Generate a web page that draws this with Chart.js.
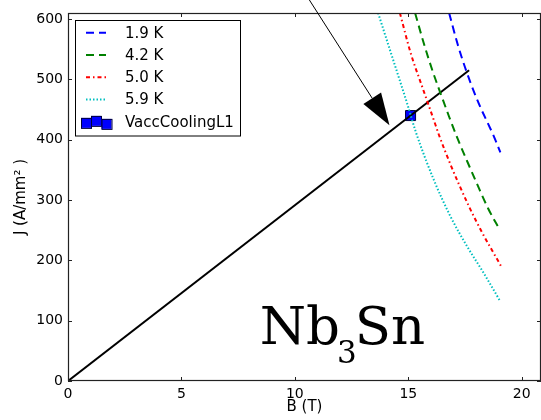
<!DOCTYPE html>
<html>
<head>
<meta charset="utf-8">
<script src="https://cdn.jsdelivr.net/npm/chart.js"></script>
<style>
  html, body { margin: 0; padding: 0; background: #fff; }
</style>
</head>
<body>
<canvas id="chart" width="541" height="420"></canvas>
<script>
// load line of the magnet and its operating point
const loadB = [0, 17.68];
const loadJ = [0, 515];
const pointB = [15.1];
const pointJ = [440];

// critical current curves
const seriesLabels = ['1.9 K', '4.2 K', '5.0 K', '5.9 K', 'VaccCoolingL1'];
const b19 = [16.8, 17.17, 17.5, 18.05, 18.79, 19.06];
const j19 = [610, 559, 520, 465, 404, 379];
const b42 = [15.3, 15.69, 16.06, 16.43, 16.8, 17.17, 17.61, 18.05, 18.52, 19.04];
const j42 = [610, 559, 515, 476, 438, 402, 363, 325, 286, 250];
const b50 = [14.63, 15.11, 15.62, 16.13, 16.36, 16.87, 17.68, 18.27, 18.9, 19.08];
const j50 = [610, 543, 487, 432, 407, 358, 289, 245, 203, 191];
const b59 = [13.67, 14.13, 14.55, 14.95, 15.33, 16.13, 16.87, 17.61, 18.34, 19.04];
const j59 = [610, 556, 507, 460, 413, 333, 272, 222, 178, 133];

// arrow pointing at the load line (data coords)
const arrowFrom = [10.31, 651];
const arrowTo = [14.17, 424];
const labelAt = [8.45, 62];

const xTicks = [0, 5, 10, 15, 20];
const yTicks = [0, 100, 200, 300, 400, 500, 600];

function pts(bs, js) {
    return bs.map((b, i) => ({ x: b, y: js[i] }));
}

const styles = [
    { color: '#0000ff', dash: [8, 5], width: 2 },
    { color: '#008000', dash: [8, 5], width: 2 },
    { color: '#ff0000', dash: [4, 3, 1.5, 3], width: 2 },
    { color: '#00bfbf', dash: [1.5, 2], width: 2 }
];

const overlay = {
    id: 'overlay',
    afterDatasetsDraw(chart) {
        const { ctx, chartArea: a, scales: { x, y } } = chart;
        ctx.save();

        // frame + inward ticks
        ctx.strokeStyle = '#222';
        ctx.lineWidth = 1.2;
        ctx.strokeRect(a.left + 0.5, a.top + 0.5, a.right - a.left - 1, a.bottom - a.top - 1);
        ctx.lineWidth = 1;
        ctx.beginPath();
        x.ticks.forEach(t => {
            const px = Math.round(x.getPixelForValue(t.value)) + 0.5;
            ctx.moveTo(px, a.bottom); ctx.lineTo(px, a.bottom - 4);
            ctx.moveTo(px, a.top); ctx.lineTo(px, a.top + 4);
        });
        y.ticks.forEach(t => {
            const py = Math.round(y.getPixelForValue(t.value)) + 0.5;
            ctx.moveTo(a.left, py); ctx.lineTo(a.left + 4, py);
            ctx.moveTo(a.right, py); ctx.lineTo(a.right - 4, py);
        });
        ctx.stroke();

        // Nb3Sn label
        ctx.fillStyle = '#000';
        ctx.textBaseline = 'alphabetic';
        let tx = x.getPixelForValue(labelAt[0]);
        const ty = y.getPixelForValue(labelAt[1]);
        ctx.font = '53px "DejaVu Serif"';
        ctx.fillText('Nb', tx, ty);
        tx += ctx.measureText('Nb').width;
        ctx.font = '31px "DejaVu Serif"';
        ctx.fillText('3', tx - 3, ty + 19);
        tx += ctx.measureText('3').width;
        ctx.font = '53px "DejaVu Serif"';
        ctx.fillText('Sn', tx - 5, ty);

        // arrow
        const x0 = x.getPixelForValue(arrowFrom[0]), y0 = y.getPixelForValue(arrowFrom[1]);
        const x1 = x.getPixelForValue(arrowTo[0]), y1 = y.getPixelForValue(arrowTo[1]);
        const ang = Math.atan2(y1 - y0, x1 - x0);
        const hl = 32, hw = 10.5;
        const bx = x1 - hl * Math.cos(ang), by = y1 - hl * Math.sin(ang);
        ctx.beginPath();
        ctx.moveTo(x0, y0); ctx.lineTo(bx, by);
        ctx.strokeStyle = '#000';
        ctx.lineWidth = 1;
        ctx.stroke();
        ctx.beginPath();
        ctx.moveTo(x1, y1);
        ctx.lineTo(bx + hw * Math.sin(ang), by - hw * Math.cos(ang));
        ctx.lineTo(bx - hw * Math.sin(ang), by + hw * Math.cos(ang));
        ctx.closePath();
        ctx.fill();

        // legend
        const lx = 75.5, ly = 20.5, lw = 165, lh = 115.5;
        ctx.fillStyle = '#fff';
        ctx.fillRect(lx, ly, lw, lh);
        ctx.strokeStyle = '#000';
        ctx.lineWidth = 1;
        ctx.strokeRect(lx, ly, lw, lh);
        ctx.font = '15px "DejaVu Sans"';
        ctx.textBaseline = 'middle';
        seriesLabels.forEach((lab, i) => {
            const cy = 32.7 + i * 22.3;
            if (i < 4) {
                const s = styles[i];
                ctx.beginPath();
                ctx.setLineDash(s.dash);
                ctx.strokeStyle = s.color;
                ctx.lineWidth = s.width;
                ctx.moveTo(86, cy); ctx.lineTo(106, cy);
                ctx.stroke();
                ctx.setLineDash([]);
            } else {
                ctx.fillStyle = '#0000ff';
                ctx.strokeStyle = '#000040';
                ctx.lineWidth = 1;
                [[81, cy - 4], [91, cy - 6], [101.5, cy - 3]].forEach(([sx, sy]) => {
                    ctx.fillRect(sx, sy, 10, 10);
                    ctx.strokeRect(sx + 0.5, sy + 0.5, 10, 10);
                });
            }
            ctx.fillStyle = '#000';
            ctx.fillText(lab, 125, cy + 1);
        });
        ctx.restore();
    }
};

const curveSets = [[b19, j19], [b42, j42], [b50, j50], [b59, j59]];
const datasets = curveSets.map(([bs, js], i) => ({
    label: seriesLabels[i],
    data: pts(bs, js),
    showLine: true,
    borderColor: styles[i].color,
    borderWidth: styles[i].width,
    borderDash: styles[i].dash,
    cubicInterpolationMode: 'monotone',
    pointRadius: 0,
    fill: false
}));
datasets.push({
    label: 'load line',
    data: pts(loadB, loadJ),
    showLine: true,
    borderColor: '#000',
    borderWidth: 2,
    pointRadius: 0
});
datasets.push({
    label: seriesLabels[4],
    data: pts(pointB, pointJ),
    pointStyle: 'rect',
    pointRadius: 7.1,
    backgroundColor: '#0000ff',
    borderColor: '#000040',
    borderWidth: 1
});

const tickFont = { family: 'DejaVu Sans', size: 14 };

new Chart(document.getElementById('chart'), {
    type: 'scatter',
    data: { datasets },
    options: {
        responsive: false,
        animation: false,
        layout: { autoPadding: false, padding: { top: 13, right: 0, bottom: 0, left: 0 } },
        plugins: { legend: { display: false }, tooltip: { enabled: false } },
        scales: {
            x: {
                type: 'linear',
                min: 0,
                max: 20.85,
                afterBuildTicks: s => { s.ticks = xTicks.map(v => ({ value: v })); },
                afterFit: s => { s.height = 39; s.paddingLeft = 0; s.paddingRight = 0; },
                grid: { display: false, drawTicks: false },
                border: { display: false },
                ticks: { font: tickFont, color: '#000', padding: 5 },
                title: { display: true, text: 'B (T)', font: { family: 'DejaVu Sans', size: 15 }, color: '#000', padding: { top: 0, bottom: 3.5 } }
            },
            y: {
                type: 'linear',
                min: 0,
                max: 610,
                afterBuildTicks: s => { s.ticks = yTicks.map(v => ({ value: v })); },
                afterFit: s => { s.width = 68; s.paddingTop = 0; s.paddingBottom = 0; },
                grid: { display: false, drawTicks: false },
                border: { display: false },
                ticks: { font: tickFont, color: '#000', padding: 5 },
                title: { display: true, text: 'J (A/mm² )', font: { family: 'DejaVu Sans', size: 15 }, color: '#000', padding: { top: 12.5, bottom: 0 } }
            }
        }
    },
    plugins: [overlay]
});
</script>
</body>
</html>
